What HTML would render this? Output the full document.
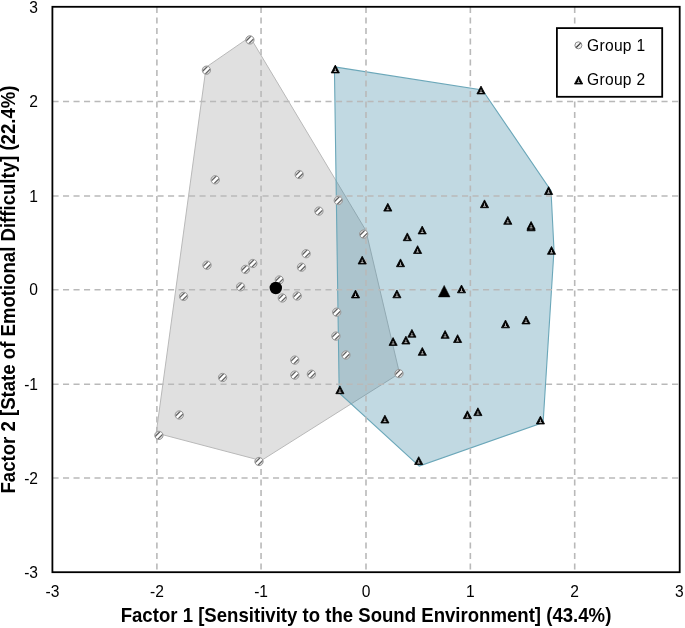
<!DOCTYPE html>
<html><head><meta charset="utf-8"><title>Factor plot</title>
<style>
html,body{margin:0;padding:0;background:#fff;}
body{width:685px;height:628px;overflow:hidden;}
svg{display:block;}
text{font-family:"Liberation Sans",Arial,sans-serif;fill:#000;}
.tk{font-size:15.6px;}
.ttl{font-size:18.6px;font-weight:bold;}
.lg{font-size:15.6px;letter-spacing:0.3px;}
</style></head>
<body>
<svg width="685" height="628" viewBox="0 0 685 628">
<defs>
<clipPath id="cc"><circle r="3.85"/></clipPath>
<g id="mc">
<circle r="4.15" fill="#dcdcdc"/>
<g clip-path="url(#cc)">
<line x1="-5" y1="5" x2="5" y2="-5" stroke="#fff" stroke-width="2.2"/>
<line x1="-7.7" y1="5" x2="2.3" y2="-5" stroke="#5a5a5a" stroke-width="1.1"/>
<line x1="-2.3" y1="5" x2="7.7" y2="-5" stroke="#5a5a5a" stroke-width="1.1"/>
</g>
<circle r="4.15" fill="none" stroke="#969696" stroke-width="1"/>
</g>
<g id="ml">
<circle r="3.5" fill="#f2f2f2" stroke="#8c8c8c" stroke-width="1"/>
<line x1="-2.2" y1="2.2" x2="2.2" y2="-2.2" stroke="#333" stroke-width="1.1"/>
</g>
<g id="mt">
<path d="M0,-4.1 L4.1,3.7 L-4.1,3.7 Z" fill="#000" stroke="#000" stroke-width="0.8" stroke-linejoin="round"/>
<path d="M0,-0.6 V2.2 M-1.5,2.3 H1.5" stroke="#d8d8d8" stroke-width="0.8" fill="none"/>
</g>
</defs>
<rect x="0" y="0" width="685" height="628" fill="#fff"/>
<polygon points="250.0,36.9 365.9,230.5 399.5,373.4 261.2,460.6 156.2,433.0 206.1,67.2" fill="#e0e0e0" stroke="#b9b9b9" stroke-width="1"/>
<polygon points="334.4,66.9 482.4,90.0 551.0,190.6 554.0,250.0 543.1,422.5 419.2,466.1 339.2,393.0" fill="rgba(61,138,164,0.32)" stroke="#6ba7b9" stroke-width="1.1"/>
<g stroke="#b9b9b9" stroke-width="1.6" stroke-dasharray="6.1 4.4" stroke-dashoffset="-0.1" fill="none">
<line x1="156.90" y1="6.8" x2="156.90" y2="572.2"/>
<line x1="261.05" y1="6.8" x2="261.05" y2="572.2"/>
<line x1="366.00" y1="6.8" x2="366.00" y2="572.2"/>
<line x1="470.35" y1="6.8" x2="470.35" y2="572.2"/>
<line x1="574.70" y1="6.8" x2="574.70" y2="572.2"/>
<line x1="52.4" y1="101.50" x2="679.7" y2="101.50"/>
<line x1="52.4" y1="196.00" x2="679.7" y2="196.00"/>
<line x1="52.4" y1="289.80" x2="679.7" y2="289.80"/>
<line x1="52.4" y1="384.20" x2="679.7" y2="384.20"/>
<line x1="52.4" y1="478.00" x2="679.7" y2="478.00"/>
</g>
<use href="#mc" x="249.9" y="39.9"/>
<use href="#mc" x="206.4" y="70.2"/>
<use href="#mc" x="215.2" y="179.8"/>
<use href="#mc" x="299.2" y="174.5"/>
<use href="#mc" x="318.9" y="211.1"/>
<use href="#mc" x="338.3" y="200.5"/>
<use href="#mc" x="363.7" y="234.1"/>
<use href="#mc" x="306.1" y="253.7"/>
<use href="#mc" x="301.5" y="267.2"/>
<use href="#mc" x="207.0" y="265.2"/>
<use href="#mc" x="245.4" y="269.4"/>
<use href="#mc" x="252.8" y="263.5"/>
<use href="#mc" x="240.6" y="286.8"/>
<use href="#mc" x="183.6" y="296.4"/>
<use href="#mc" x="279.3" y="280.0"/>
<use href="#mc" x="282.3" y="298.0"/>
<use href="#mc" x="297.2" y="296.0"/>
<use href="#mc" x="336.7" y="312.2"/>
<use href="#mc" x="335.9" y="336.1"/>
<use href="#mc" x="345.9" y="355.0"/>
<use href="#mc" x="294.8" y="360.1"/>
<use href="#mc" x="294.8" y="375.1"/>
<use href="#mc" x="311.4" y="374.2"/>
<use href="#mc" x="222.6" y="377.5"/>
<use href="#mc" x="179.3" y="415.0"/>
<use href="#mc" x="158.9" y="435.4"/>
<use href="#mc" x="259.0" y="461.5"/>
<use href="#mc" x="399.0" y="373.6"/>
<use href="#mt" x="335.3" y="69.2"/>
<use href="#mt" x="481.0" y="90.2"/>
<use href="#mt" x="548.6" y="190.8"/>
<use href="#mt" x="387.8" y="207.4"/>
<use href="#mt" x="484.5" y="204.0"/>
<use href="#mt" x="422.2" y="230.2"/>
<use href="#mt" x="407.3" y="237.0"/>
<use href="#mt" x="417.6" y="249.8"/>
<use href="#mt" x="362.2" y="260.3"/>
<use href="#mt" x="400.5" y="263.0"/>
<use href="#mt" x="507.8" y="220.6"/>
<use href="#mt" x="531.1" y="227.1"/>
<use href="#mt" x="531.1" y="225.6"/>
<use href="#mt" x="551.5" y="250.6"/>
<use href="#mt" x="355.5" y="294.2"/>
<use href="#mt" x="396.9" y="294.1"/>
<use href="#mt" x="461.5" y="289.1"/>
<use href="#mt" x="505.5" y="324.1"/>
<use href="#mt" x="526.0" y="320.2"/>
<use href="#mt" x="393.1" y="341.7"/>
<use href="#mt" x="405.9" y="340.3"/>
<use href="#mt" x="411.9" y="333.5"/>
<use href="#mt" x="422.3" y="351.6"/>
<use href="#mt" x="445.1" y="334.6"/>
<use href="#mt" x="457.6" y="338.8"/>
<use href="#mt" x="339.9" y="390.0"/>
<use href="#mt" x="384.9" y="419.3"/>
<use href="#mt" x="418.7" y="460.8"/>
<use href="#mt" x="467.4" y="414.9"/>
<use href="#mt" x="477.9" y="411.9"/>
<use href="#mt" x="540.4" y="420.3"/>
<circle cx="275.8" cy="288.0" r="6.2" fill="#000"/>
<path d="M444.2,285.4 L450.0,296.9 L438.4,296.9 Z" fill="#000" stroke="#000" stroke-width="0.5" stroke-linejoin="round"/>
<rect x="52.4" y="6.8" width="627.3" height="565.4" fill="none" stroke="#000" stroke-width="1.8"/>
<rect x="556.9" y="28.1" width="105.3" height="68.7" fill="#fff" stroke="#000" stroke-width="1.8"/>
<use href="#ml" x="578.4" y="45.3"/>
<use href="#mt" x="578.6" y="80.3"/>
<text class="lg" x="587" y="50.9">Group 1</text>
<text class="lg" x="587" y="84.7">Group 2</text>
<g class="tk">
<text x="38" y="12.6" text-anchor="end">3</text>
<text x="38" y="107.1" text-anchor="end">2</text>
<text x="38" y="201.6" text-anchor="end">1</text>
<text x="38" y="295.4" text-anchor="end">0</text>
<text x="38" y="389.8" text-anchor="end">-1</text>
<text x="38" y="483.6" text-anchor="end">-2</text>
<text x="38" y="577.8" text-anchor="end">-3</text>
<text x="52.4" y="597.1" text-anchor="middle">-3</text>
<text x="156.9" y="597.1" text-anchor="middle">-2</text>
<text x="261.1" y="597.1" text-anchor="middle">-1</text>
<text x="366.0" y="597.1" text-anchor="middle">0</text>
<text x="470.4" y="597.1" text-anchor="middle">1</text>
<text x="574.7" y="597.1" text-anchor="middle">2</text>
<text x="679.4" y="597.1" text-anchor="middle">3</text>
</g>
<text class="ttl" transform="translate(366,622.4) scale(1,1.06)" text-anchor="middle">Factor 1 [Sensitivity to the Sound Environment] (43.4%)</text>
<text class="ttl" transform="translate(15.0,289.5) rotate(-90) scale(1,1.06)" text-anchor="middle">Factor 2 [State of Emotional Difficulty] (22.4%)</text>
</svg>
</body></html>
